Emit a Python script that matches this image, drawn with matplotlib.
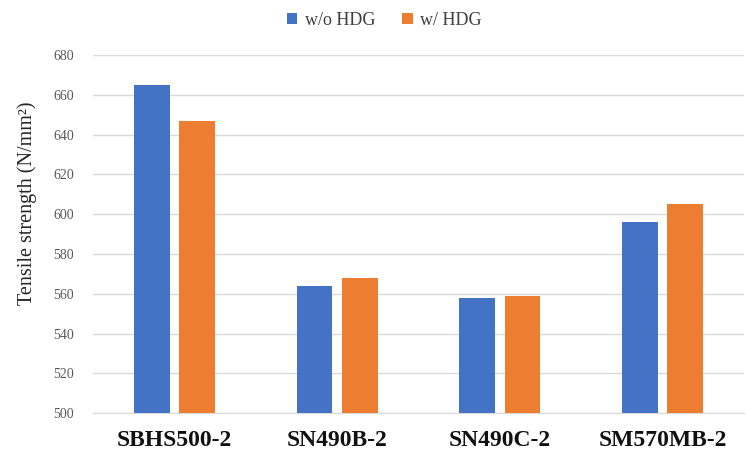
import numpy as np
import matplotlib.pyplot as plt

# steel grades and tensile strength (N/mm2)
grades = ['SBHS500-2', 'SN490B-2', 'SN490C-2', 'SM570MB-2']
without_hdg = [665, 564, 558, 596]
with_hdg = [647, 568, 559, 605]
series_names = ['w/o HDG', 'w/ HDG']

plt.rcParams['font.family'] = ['Liberation Serif', 'DejaVu Serif']

fig = plt.figure(figsize=(7.46, 4.54), dpi=100)
ax = fig.add_axes([0.125, 0.09, 0.872, 0.789])

x = np.arange(len(grades))
w = 0.22
off = 0.14
ax.bar(x - off, without_hdg, w, color='#4472C4', label=series_names[0], zorder=3)
ax.bar(x + off, with_hdg, w, color='#ED7D31', label=series_names[1], zorder=3)

ax.set_ylim(500, 680)
ax.set_yticks(np.arange(500, 681, 20))
ax.set_xlim(-0.5, len(grades) - 0.5)
ax.set_xticks(x)
ax.set_xticklabels(grades, fontsize=17, fontweight='bold', color='#111111')
ax.tick_params(axis='y', labelsize=10, labelcolor='#595959', length=0, pad=14)
ax.tick_params(axis='x', length=0, pad=12)
ax.grid(axis='y', color='#D9D9D9', linewidth=1, zorder=0)

for s in ['top', 'right', 'left']:
    ax.spines[s].set_visible(False)
ax.spines['bottom'].set_color('#D9D9D9')

ax.set_ylabel('Tensile strength (N/mm²)', fontsize=14.5, color='#262626')
ax.yaxis.set_label_coords(-0.086, 0.585)

fig.legend(loc='center', bbox_to_anchor=(0.515, 0.955), ncol=2, frameon=False,
           fontsize=13, handlelength=0.6, handleheight=0.6, columnspacing=1.5,
           handletextpad=0.4, labelcolor='#404040')

plt.savefig('out.png', dpi=100)
